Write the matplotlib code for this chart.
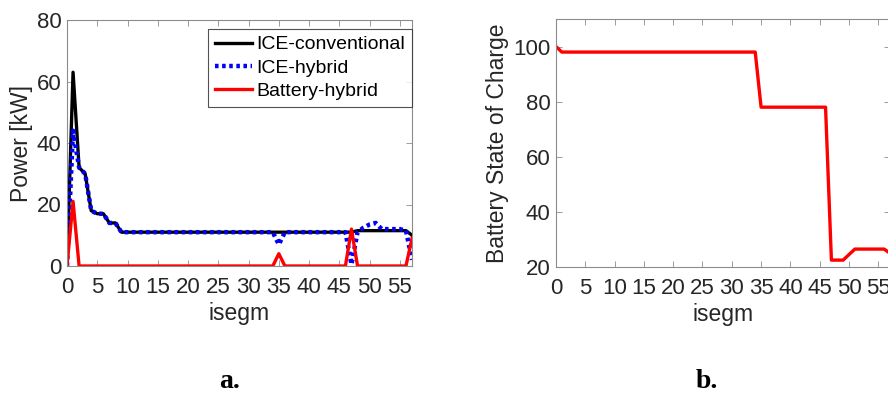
import matplotlib
matplotlib.use("Agg")
import matplotlib.pyplot as plt
import numpy as np

plt.rcParams['font.family'] = ['Liberation Sans', 'DejaVu Sans']

# datos (isegm 0..57)
isegm = np.arange(0, 58)

ice_conv = [0, 63, 32, 30, 18, 17, 17, 14, 14, 11] + [11] * 38 + \
    [11.5, 11.5, 11.5, 11.5, 11.5, 11.5, 11.5, 11.5, 11.5, 10]
ice_hyb = [0, 44, 32, 30, 18, 17, 17, 14, 14, 11] + [11] * 25 + [7] + [11] * 11 + \
    [0.5, 11, 12.5, 13.5, 14, 12, 12, 12, 12, 11.5, 2]
batt_hyb = [0, 21] + [0] * 33 + [4] + [0] * 11 + [12] + [0] * 9 + [9]

soc = [100] + [98] * 34 + [78] * 12 + [22.5, 22.5, 22.5, 24.5, 26.5, 26.5, 26.5,
                                      26.5, 26.5, 26.5, 25]

W, H = 888, 394
fig = plt.figure(figsize=(W / 100, H / 100), dpi=100)

gris = '#262626'
caja = '#8c8c8c'


def estilo(ax):
    for s in ax.spines.values():
        s.set_color(caja)
        s.set_linewidth(0.8)
    ax.tick_params(direction='in', length=4, width=0.6, color=caja,
                   labelcolor=gris, labelsize=16, top=True, right=True)
    ax.tick_params(axis='x', pad=8)
    ax.tick_params(axis='y', pad=4)
    ax.set_xticks(np.arange(0, 56, 5))


# Grafica a
ax1 = fig.add_axes([67 / W, 1 - 266 / H, 345 / W, 246 / H])
ax1.plot(isegm, ice_conv, color='black', lw=2.4, label='ICE-conventional')
ax1.plot(isegm, ice_hyb, color='blue', lw=3.2, linestyle=(0, (0.8, 0.8)),
         label='ICE-hybrid')
ax1.plot(isegm, batt_hyb, color='red', lw=2.4, label='Battery-hybrid')
ax1.set_xlim(0, 57)
ax1.set_ylim(0, 80)
ax1.set_yticks(np.arange(0, 81, 20))
estilo(ax1)
ax1.set_xlabel('isegm', fontsize=16.5, color=gris, labelpad=3)
ax1.set_ylabel('Power [kW]', fontsize=16.5, color=gris, labelpad=3)
leg = ax1.legend(loc='upper right', bbox_to_anchor=(1.0, 1 - 9 / 246),
                 fontsize=14, frameon=True, fancybox=False, borderaxespad=0,
                 handlelength=1.9, labelspacing=0.3, handletextpad=0.25,
                 borderpad=0.35)
leg.get_frame().set_edgecolor(gris)
leg.get_frame().set_linewidth(0.8)

# Grafica b
ax2 = fig.add_axes([556 / W, 1 - 267 / H, 334 / W, 248 / H])
ax2.plot(isegm, soc, color='red', lw=2.4)
ax2.set_xlim(0, 57)
ax2.set_ylim(20, 110)
ax2.set_yticks(np.arange(20, 101, 20))
estilo(ax2)
ax2.set_xlabel('isegm', fontsize=16.5, color=gris, labelpad=3)
ax2.set_ylabel('Battery State of Charge', fontsize=16.5, color=gris, labelpad=3)

fig.text(230 / W, 1 - 381 / H, 'a.', fontsize=20, fontweight='bold',
         family='Liberation Serif', ha='center', va='center')
fig.text(707 / W, 1 - 381 / H, 'b.', fontsize=20, fontweight='bold',
         family='Liberation Serif', ha='center', va='center')

fig.savefig('out.png', dpi=100)
